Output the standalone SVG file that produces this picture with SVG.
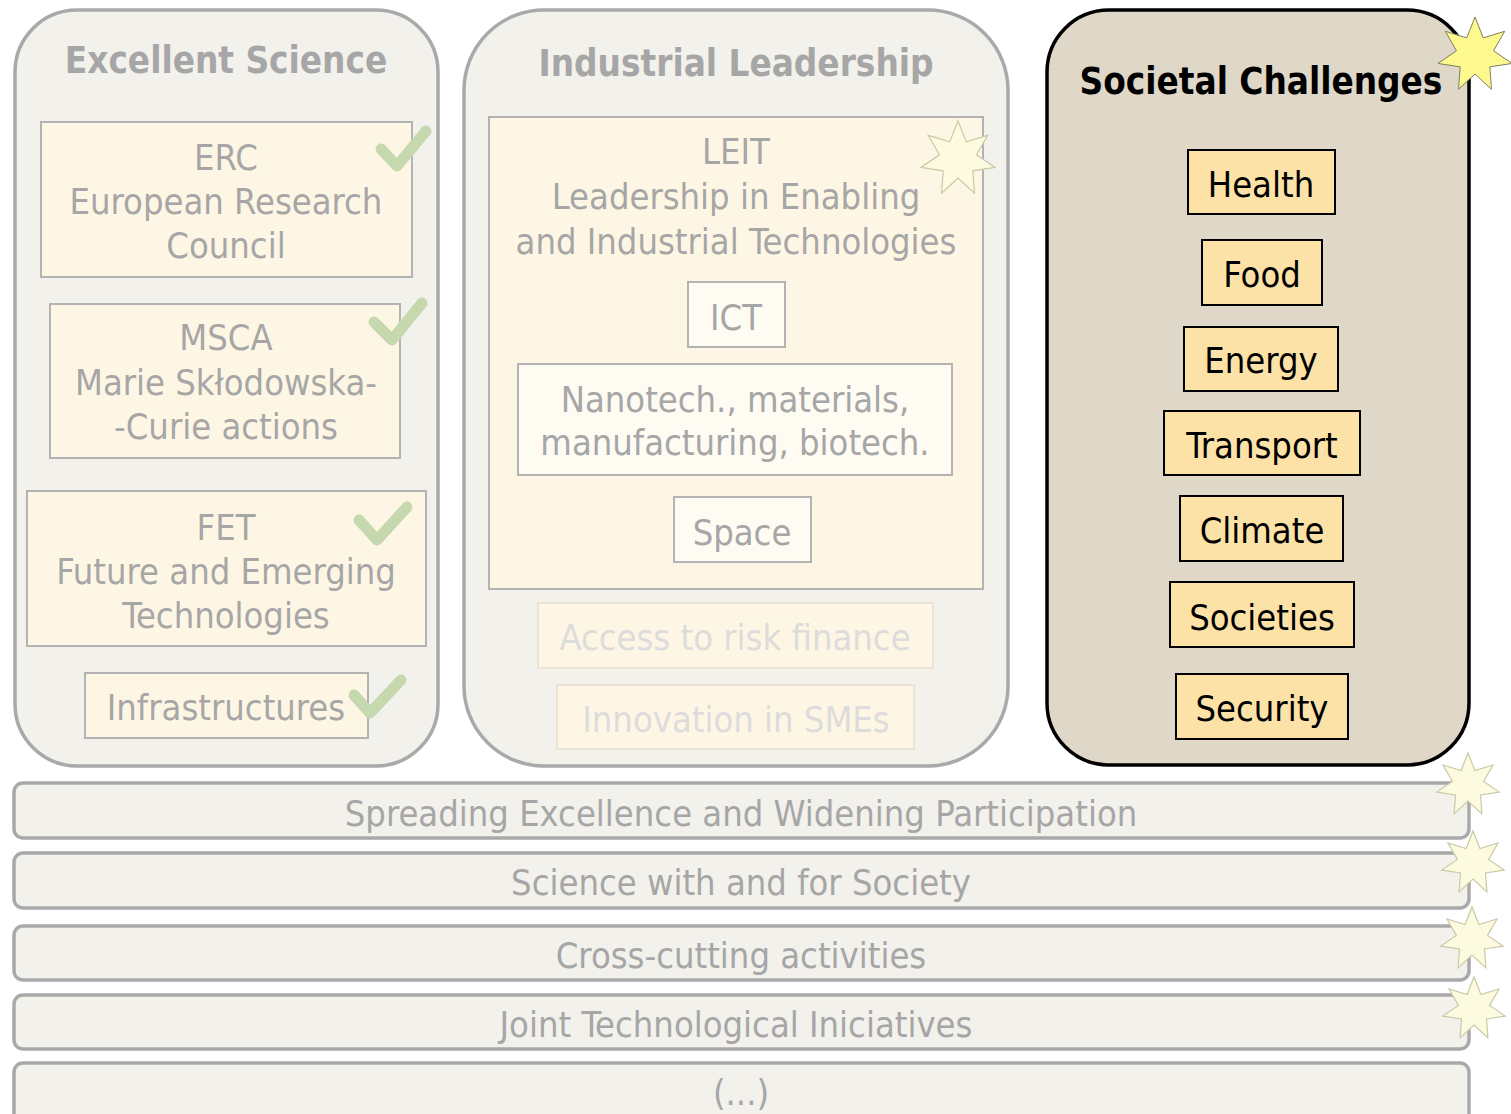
<svg xmlns="http://www.w3.org/2000/svg" xmlns:xlink="http://www.w3.org/1999/xlink" width="1511" height="1114" viewBox="0 0 1511 1114">
<style>
.panel{fill:#f3f1ec;stroke:#a9a9a9;stroke-width:3.5}
.soc{fill:#dfd7c7;stroke:#000;stroke-width:3.5}
.box{fill:#fef6e4;stroke:#b3b3b3;stroke-width:2}
.inner{fill:#fefbf3;stroke:#b3b3b3;stroke-width:2}
.faint{fill:#fef6e4;stroke:#ebe3d3;stroke-width:2}
.sbox{fill:#fde2a8;stroke:#000;stroke-width:2}
.bar{fill:#f3f1ec;stroke:#a9a9a9;stroke-width:3.5}
text{font-family:"DejaVu Sans Condensed","DejaVu Sans",sans-serif;font-size:36px;text-anchor:middle}
.g{fill:#a6a6a6}
.fg{fill:#dcdcdc}
.k{fill:#000}
.title{font-weight:bold;font-size:36.5px}
.chk{fill:none;stroke:#c6d9ae;stroke-width:11;stroke-linecap:round;stroke-linejoin:round}
.starY{fill:#fdf98f;stroke:#7f7f60;stroke-width:1}
.starP{fill:#fdfbdf;stroke:#c9c9a8;stroke-width:1.2}
</style>
<defs>
<polygon id="star7" vector-effect="non-scaling-stroke" points="0,-1 0.2170,-0.4505 0.7818,-0.6235 0.4875,-0.1113 0.9749,0.2225 0.3909,0.3117 0.4339,0.9010 0,0.5 -0.4339,0.9010 -0.3909,0.3117 -0.9749,0.2225 -0.4875,-0.1113 -0.7818,-0.6235 -0.2170,-0.4505"/>
</defs>

<g id="excellent-science">
<rect class="panel" x="15" y="10" width="423" height="756" rx="62"/>
<text class="title g" x="226" y="73">Excellent Science</text>
</g>
<g id="erc">
<rect class="box" x="41" y="122" width="371" height="155"/>
<text class="g" x="226" y="170">ERC</text>
<text class="g" x="226" y="214">European Research</text>
<text class="g" x="226" y="258">Council</text>
<polyline class="chk" points="381,149 397,166 426,131"/>
</g>
<g id="msca">
<rect class="box" x="50" y="304" width="350" height="154"/>
<text class="g" x="226" y="350">MSCA</text>
<text class="g" x="226" y="395">Marie Skłodowska-</text>
<text class="g" x="226" y="439">-Curie actions</text>
<polyline class="chk" points="374,322 392,340 422,303"/>
</g>
<g id="fet">
<rect class="box" x="27" y="491" width="399" height="155"/>
<text class="g" x="226" y="540">FET</text>
<text class="g" x="226" y="584">Future and Emerging</text>
<text class="g" x="226" y="628">Technologies</text>
<polyline class="chk" points="359,520 377,540 407,507"/>
</g>
<g id="infrastructures">
<rect class="box" x="85" y="673" width="283" height="65"/>
<text class="g" x="226" y="720">Infrastructures</text>
<polyline class="chk" points="354,695 370,713 401,680"/>
</g>

<g id="industrial-leadership">
<rect class="panel" x="464" y="10" width="544" height="756" rx="80"/>
<text class="title g" x="736" y="76">Industrial Leadership</text>
</g>
<g id="leit">
<rect class="box" x="489" y="117" width="494" height="472"/>
<text class="g" x="736" y="164">LEIT</text>
<text class="g" x="736" y="209">Leadership in Enabling</text>
<text class="g" x="736" y="254">and Industrial Technologies</text>
<use href="#star7" class="starP" transform="translate(958,159) scale(38)"/>
</g>
<g id="ict">
<rect class="inner" x="688" y="282" width="97" height="65"/>
<text class="g" x="736" y="330">ICT</text>
</g>
<g id="nanotech">
<rect class="inner" x="518" y="364" width="434" height="111"/>
<text class="g" x="735" y="412">Nanotech., materials,</text>
<text class="g" x="735" y="455">manufacturing, biotech.</text>
</g>
<g id="space">
<rect class="inner" x="674" y="497" width="137" height="65"/>
<text class="g" x="742" y="545">Space</text>
</g>
<g id="risk-finance">
<rect class="faint" x="538" y="603" width="395" height="65"/>
<text class="fg" x="735" y="650">Access to risk finance</text>
</g>
<g id="smes">
<rect class="faint" x="557" y="685" width="357" height="64"/>
<text class="fg" x="736" y="732">Innovation in SMEs</text>
</g>

<g id="societal-challenges">
<rect class="soc" x="1047" y="10" width="422" height="755" rx="62"/>
<text class="title k" x="1261" y="94">Societal Challenges</text>
<use href="#star7" class="starY" transform="translate(1475,55) scale(38)"/>
</g>
<g id="health"><rect class="sbox" x="1188" y="150" width="147" height="64"/><text class="k" x="1261" y="197">Health</text></g>
<g id="food"><rect class="sbox" x="1202" y="240" width="120" height="65"/><text class="k" x="1262" y="287">Food</text></g>
<g id="energy"><rect class="sbox" x="1184" y="327" width="154" height="64"/><text class="k" x="1261" y="373">Energy</text></g>
<g id="transport"><rect class="sbox" x="1164" y="411" width="196" height="64"/><text class="k" x="1262" y="458">Transport</text></g>
<g id="climate"><rect class="sbox" x="1180" y="496" width="163" height="65"/><text class="k" x="1262" y="543">Climate</text></g>
<g id="societies"><rect class="sbox" x="1170" y="582" width="184" height="65"/><text class="k" x="1262" y="630">Societies</text></g>
<g id="security"><rect class="sbox" x="1176" y="674" width="172" height="65"/><text class="k" x="1262" y="721">Security</text></g>

<g id="spreading">
<rect class="bar" x="14" y="783" width="1455" height="55" rx="9"/>
<text class="g" x="741" y="826">Spreading Excellence and Widening Participation</text>
<use href="#star7" class="starP" transform="translate(1468,785) scale(32)"/>
</g>
<g id="science-society">
<rect class="bar" x="14" y="853" width="1455" height="55" rx="9"/>
<text class="g" x="741" y="895">Science with and for Society</text>
<use href="#star7" class="starP" transform="translate(1473,863) scale(32)"/>
</g>
<g id="cross-cutting">
<rect class="bar" x="14" y="926" width="1455" height="54" rx="9"/>
<text class="g" x="741" y="968">Cross-cutting activities</text>
<use href="#star7" class="starP" transform="translate(1472,939) scale(32)"/>
</g>
<g id="joint-tech">
<rect class="bar" x="14" y="995" width="1455" height="54" rx="9"/>
<text class="g" x="736" y="1037">Joint Technological Iniciatives</text>
<use href="#star7" class="starP" transform="translate(1474,1009) scale(32)"/>
</g>
<g id="more">
<rect class="bar" x="14" y="1063" width="1455" height="70" rx="9"/>
<text class="g" x="741" y="1105">(...)</text>
</g>
<g id="connectors"/>
</svg>
